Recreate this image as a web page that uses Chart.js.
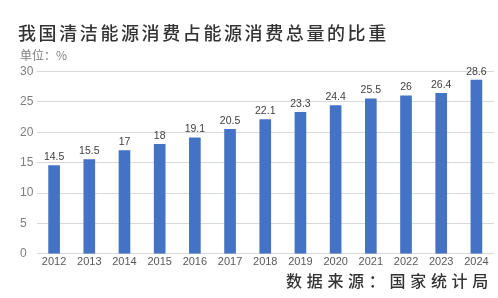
<!DOCTYPE html>
<html>
<head>
<meta charset="utf-8">
<script src="https://cdn.jsdelivr.net/npm/chart.js@4.4.1/dist/chart.umd.min.js"></script>
<style>
  html, body { margin: 0; padding: 0; background: #fff; }
  #wrap { position: relative; width: 498px; height: 298px; overflow: hidden; }
  #chart { position: absolute; left: 0; top: 0; }
  .txt { position: absolute; white-space: nowrap; font-family: "Noto Sans CJK SC", sans-serif; }
  #title { left: 18px; top: 20px; font-size: 18px; line-height: 24px; letter-spacing: 2.6px; color: #333; font-weight: 500; }
  #unit { left: 20px; top: 47px; font-size: 12px; line-height: 16px; color: #7f7f7f; }
  #source { left: 286px; top: 269px; font-size: 16px; line-height: 22px; letter-spacing: 4.7px; color: #333; font-weight: 500; }
</style>
</head>
<body>
<div id="wrap">
  <canvas id="chart" width="498" height="298"></canvas>
  <div class="txt" id="title">我国清洁能源消费占能源消费总量的比重</div>
  <div class="txt" id="unit">单位：%</div>
  <div class="txt" id="source">数据来源：国家统计局</div>
</div>
<script>
// years and share of clean energy (%)
years = ["2012", "2013", "2014", "2015", "2016", "2017", "2018", "2019", "2020", "2021", "2022", "2023", "2024"];
share = [14.5, 15.5, 17, 18, 19.1, 20.5, 22.1, 23.3, 24.4, 25.5, 26, 26.4, 28.6];
yTicks = [0, 5, 10, 15, 20, 25, 30];

// Draw value labels above each bar
valueLabels = {
    id: 'valueLabels',
    afterDatasetsDraw(chart) {
        ctx = chart.ctx;
        meta = chart.getDatasetMeta(0);
        ctx.save();
        ctx.font = '10.5px "Liberation Sans", Arial, sans-serif';
        ctx.fillStyle = '#404040';
        ctx.textAlign = 'center';
        ctx.textBaseline = 'bottom';
        meta.data.forEach((bar, i) => {
            ctx.fillText(String(share[i]), bar.x, bar.y - 3);
        });
        ctx.restore();
    }
};

new Chart("chart", {
    type: "bar",
    data: {
        labels: years,
        datasets: [{
            data: share,
            backgroundColor: "#4472C4",
            barThickness: 11
        }]
    },
    options: {
        responsive: false,
        animation: false,
        layout: { padding: { left: 20, right: 4, top: 71.5, bottom: 27 } },
        plugins: {
            legend: { display: false },
            title: { display: false },
            tooltip: { enabled: false }
        },
        scales: {
            x: {
                grid: { display: false, drawTicks: false },
                border: { display: false },
                ticks: {
                    color: "#595959",
                    font: { size: 11, family: '"Liberation Sans", Arial, sans-serif' },
                    padding: 2,
                    maxRotation: 0,
                    autoSkip: false
                }
            },
            y: {
                min: 0,
                max: 30,
                afterBuildTicks: (scale) => { scale.ticks = yTicks.map(v => ({ value: v })); },
                afterFit: (scale) => { scale.width = 16.5; },
                grid: { color: "#d9d9d9", drawTicks: false },
                border: { display: false },
                ticks: {
                    color: "#7f7f7f",
                    crossAlign: "far",
                    padding: 0,
                    font: { size: 12, family: '"Liberation Sans", Arial, sans-serif' }
                }
            }
        }
    },
    plugins: [valueLabels]
});
</script>
</body>
</html>
